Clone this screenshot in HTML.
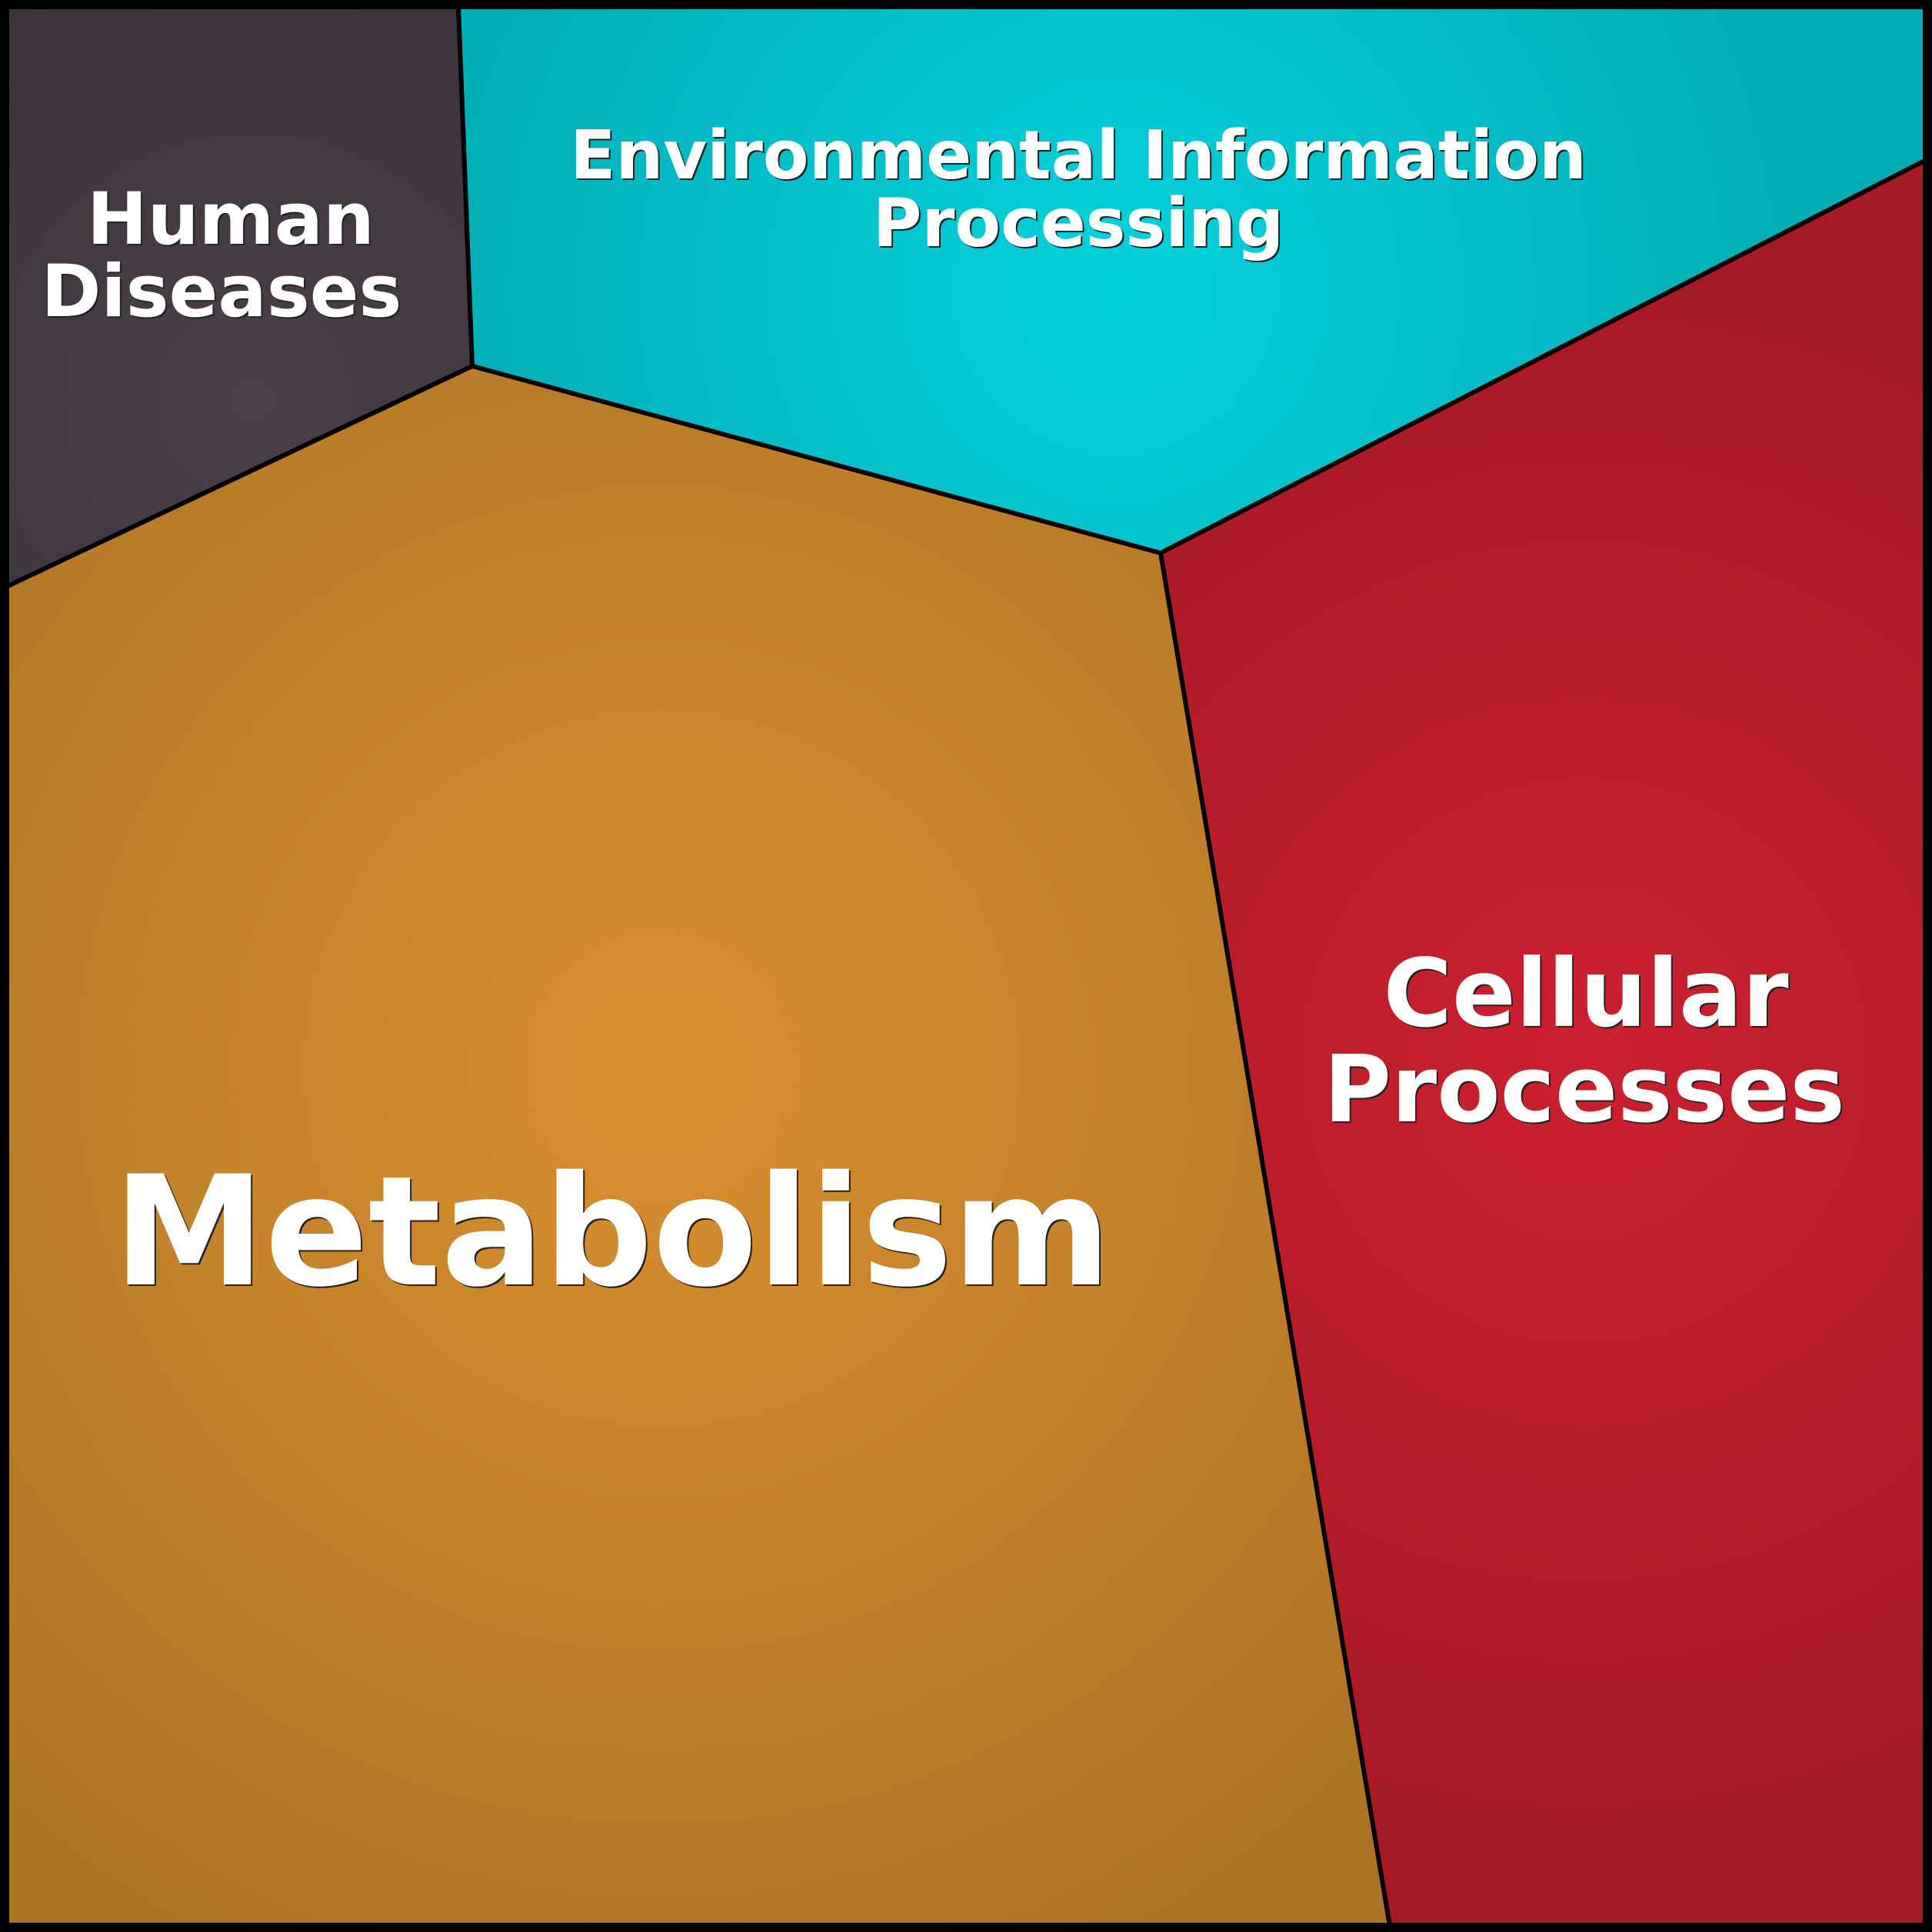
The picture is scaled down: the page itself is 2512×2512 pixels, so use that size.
<!DOCTYPE html>
<html><head><meta charset="utf-8"><style>
html,body{margin:0;padding:0;background:#000;}
svg{display:block;}
text{font-family:"DejaVu Sans","Liberation Sans",sans-serif;font-weight:bold;text-anchor:middle;}
</style></head><body>
<svg width="2512" height="2512" viewBox="0 0 2512 2512" xmlns="http://www.w3.org/2000/svg">
<defs>
<radialGradient id="gm" cx="860" cy="1390" r="1300" gradientUnits="userSpaceOnUse">
<stop offset="0" stop-color="#d98f2f"/><stop offset="1" stop-color="#ad7426"/></radialGradient>
<radialGradient id="gh" cx="330" cy="520" r="600" gradientUnits="userSpaceOnUse">
<stop offset="0" stop-color="#4a4048"/><stop offset="1" stop-color="#3d333a"/></radialGradient>
<radialGradient id="ge" cx="1450" cy="380" r="900" gradientUnits="userSpaceOnUse">
<stop offset="0" stop-color="#03d2dd"/><stop offset="1" stop-color="#03adb6"/></radialGradient>
<radialGradient id="gc" cx="2060" cy="1380" r="1000" gradientUnits="userSpaceOnUse">
<stop offset="0" stop-color="#cd202f"/><stop offset="1" stop-color="#a61a25"/></radialGradient>
</defs>
<rect x="0" y="0" width="2512" height="2512" fill="#000"/>
<polygon points="8,8 596,8 614,476 8,763" fill="url(#gh)"/>
<polygon points="596,8 2504,8 2504,208 1509,719 614,476" fill="url(#ge)"/>
<polygon points="2504,208 2504,2504 1807,2504 1509,719" fill="url(#gc)"/>
<polygon points="8,763 614,476 1509,719 1807,2504 8,2504" fill="url(#gm)"/>
<g fill="none" stroke="#000" stroke-width="6" stroke-linejoin="round">
<polyline points="596,8 614,476 8,763"/>
<polyline points="614,476 1509,719 2504,208"/>
<polyline points="1509,719 1807,2504"/>
</g>
<rect x="6" y="6" width="2500" height="2500" fill="none" stroke="#000" stroke-width="12"/>
<g fill="#222" transform="translate(2,2)">
<text x="300" y="317" font-size="94">Human</text>
<text x="288" y="411" font-size="94">Diseases</text>
<text x="1402" y="232" font-size="87">Environmental Information</text>
<text x="1402" y="320" font-size="87">Processing</text>
<text x="2062" y="1334" font-size="122">Cellular</text>
<text x="2060" y="1458" font-size="120">Processes</text>
<text x="796" y="1670" font-size="198">Metabolism</text>
</g>
<g fill="#fff">
<text x="300" y="317" font-size="94">Human</text>
<text x="288" y="411" font-size="94">Diseases</text>
<text x="1402" y="232" font-size="87">Environmental Information</text>
<text x="1402" y="320" font-size="87">Processing</text>
<text x="2062" y="1334" font-size="122">Cellular</text>
<text x="2060" y="1458" font-size="120">Processes</text>
<text x="796" y="1670" font-size="198">Metabolism</text>
</g>
</svg>
</body></html>
